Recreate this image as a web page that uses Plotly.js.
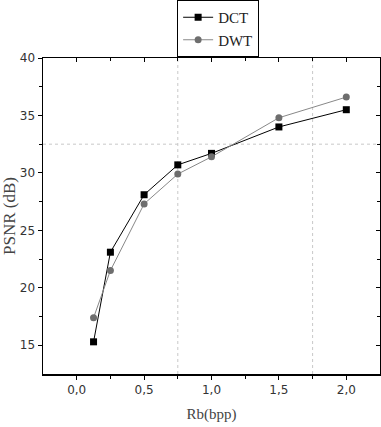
<!DOCTYPE html>
<html><head><meta charset="utf-8">
<script src="https://cdn.plot.ly/plotly-3.0.1.min.js"></script>
<style>body{margin:0;padding:0;background:#fff}#c{width:381px;height:427px}</style>
</head><body><div id="c"></div>
<script>
const rates = [0.125, 0.25, 0.5, 0.75, 1.0, 1.5, 2.0];
const dctPsnr = [15.3, 23.1, 28.1, 30.7, 31.7, 34.0, 35.5];
const dwtPsnr = [17.4, 21.5, 27.3, 29.9, 31.4, 34.8, 36.6];
const xTicks = [0, 0.5, 1, 1.5, 2];
const xMinor = [0.25, 0.75, 1.25, 1.75];
const yTicks = [15, 20, 25, 30, 35, 40];
const yMinor = [17.5, 22.5, 27.5, 32.5, 37.5];
const gridX = [0.75, 1.75];
const gridY = [32.5];

const narrow = 'DejaVu Sans';
const serif = '"Liberation Serif", "Times New Roman", serif';

const traces = [
  {x: rates, y: dctPsnr, name: 'DCT', mode: 'lines+markers', type: 'scatter',
   line: {color: '#000', width: 1}, marker: {symbol: 'square', size: 7, color: '#000'}},
  {x: rates, y: dwtPsnr, name: 'DWT', mode: 'lines+markers', type: 'scatter',
   line: {color: '#888', width: 1}, marker: {symbol: 'circle', size: 7, color: '#6e6e6e'}},
  {x: [], y: [], xaxis: 'x2', yaxis: 'y2', type: 'scatter', mode: 'markers', showlegend: false, hoverinfo: 'skip'}
];

const shapes = [];
gridX.forEach(v => shapes.push({type: 'line', xref: 'x', yref: 'paper', x0: v, x1: v, y0: 0, y1: 1,
  line: {color: '#c8c8c8', width: 1, dash: 'dot'}, layer: 'below'}));
gridY.forEach(v => shapes.push({type: 'line', xref: 'paper', yref: 'y', x0: 0, x1: 1, y0: v, y1: v,
  line: {color: '#c8c8c8', width: 1, dash: 'dot'}, layer: 'below'}));

const tickFont = {family: narrow, size: 12, color: '#333', stretch: 'condensed'};

const layout = {
  width: 381, height: 427,
  margin: {l: 43, r: 1, t: 57, b: 53},
  paper_bgcolor: '#fff', plot_bgcolor: '#fff',
  separators: ',.',
  showlegend: true,
  legend: {x: 0.398, y: 1.18, xanchor: 'left', yanchor: 'top', bordercolor: '#000', borderwidth: 1,
    font: {family: serif, size: 15, color: '#222'}, tracegroupgap: 0, itemwidth: 30, bgcolor: '#fff'},
  xaxis: {range: [-0.25, 2.25], tickvals: xTicks, tickformat: '.1f',
    showgrid: false, zeroline: false, showline: true, linecolor: '#000', linewidth: 1.5,
    ticks: 'outside', ticklen: 4, tickcolor: '#000',
    minor: {tickvals: xMinor, ticklen: 3, tickcolor: '#000', ticks: 'outside'},
    tickfont: tickFont,
    title: {text: 'Rb(bpp)', font: {family: serif, size: 15, color: '#444'}, standoff: 12}},
  yaxis: {range: [12.5, 40], tickvals: yTicks,
    showgrid: false, zeroline: false, showline: true, linecolor: '#000', linewidth: 1.5,
    ticks: 'outside', ticklen: 4, tickcolor: '#000',
    minor: {tickvals: yMinor, ticklen: 3, tickcolor: '#000', ticks: 'outside'},
    tickfont: tickFont,
    title: {text: 'PSNR (dB)', font: {family: serif, size: 17, color: '#444'}, standoff: 4}},
  xaxis2: {overlaying: 'x', side: 'top', anchor: 'y2', range: [-0.25, 2.25], tickvals: xTicks,
    showticklabels: false, showgrid: false, zeroline: false, showline: true, linecolor: '#000', linewidth: 1.5,
    ticks: 'inside', ticklen: 4, tickcolor: '#000',
    minor: {tickvals: xMinor, ticklen: 3, tickcolor: '#000', ticks: 'inside'}},
  yaxis2: {overlaying: 'y', side: 'right', anchor: 'x2', range: [12.5, 40], tickvals: yTicks,
    showticklabels: false, showgrid: false, zeroline: false, showline: true, linecolor: '#000', linewidth: 1.5,
    ticks: 'inside', ticklen: 4, tickcolor: '#000',
    minor: {tickvals: yMinor, ticklen: 3, tickcolor: '#000', ticks: 'inside'}},
  shapes: shapes
};

Plotly.newPlot('c', traces, layout, {displayModeBar: false, staticPlot: true});
</script></body></html>
